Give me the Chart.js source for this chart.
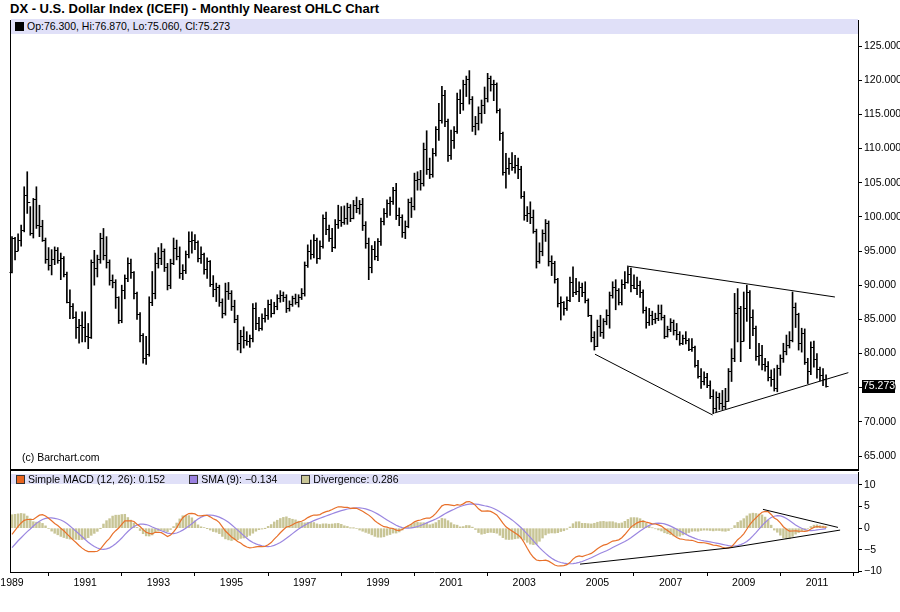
<!DOCTYPE html>
<html>
<head>
<meta charset="utf-8">
<script src="https://cdn.jsdelivr.net/npm/chart.js@4.4.1/dist/chart.umd.min.js"></script>
<style>
body { margin: 0; background: #fff; }
#wrap { position: relative; width: 900px; height: 612px; overflow: hidden;
  font-family: "Liberation Sans", Arial, sans-serif; font-size: 10.5px; color: #000; }
#wrap canvas { position: absolute; left: 0; }
.abs { position: absolute; }
#title { left: 10px; top: 1px; font-size: 13px; font-weight: bold; line-height: 15px; white-space: nowrap; }
.band { background: #e0e0f8; left: 11px; width: 847px; white-space: nowrap; }
.sq { display: inline-block; width: 7px; height: 7px; border: 1px solid #333; vertical-align: -1px; margin-right: 3px; }
.item { margin-right: 24px; }
</style>
</head>
<body>
<div id="wrap">
  <div id="title" class="abs">DX - U.S. Dollar Index (ICEFI) - Monthly Nearest OHLC Chart</div>
  <canvas id="main" width="900" height="451" style="top:20px"></canvas>
  <canvas id="macd" width="900" height="141" style="top:471px"></canvas>
  <div class="abs band" style="top:19px;height:15px;line-height:15px;padding-left:4px;width:843px"><span class="sq" style="background:#000;border-color:#000"></span><span id="ohlc"></span></div>
  <div class="abs band" style="top:474px;height:10px;line-height:10px;padding-left:5px;width:842px" id="macdLegend"></div>
  <div class="abs" style="left:10px;top:20px;width:1px;height:552px;background:#000"></div>
  <div class="abs" style="left:10px;top:469px;width:848px;height:2px;background:#000"></div>
  <div class="abs" style="left:22px;top:451px;line-height:13px">(c) Barchart.com</div>
</div>
<script>
// monthly bars, Jan 1989 .. Apr 2011 (one row per year)
var opens = [
  92.0, 96.9, 95.0, 96.6, 98.1, 103.2, 102.2, 97.6, 102.6, 98.8, 98.6, 96.6,
  93.9, 93.0, 93.8, 95.1, 93.7, 94.0, 91.7, 87.6, 86.9, 85.4, 83.9, 84.2,
  83.9, 82.5, 82.4, 93.4, 92.5, 93.9, 96.9, 94.4, 93.4, 90.8, 90.5, 88.3,
  84.9, 89.3, 91.0, 93.3, 92.0, 88.8, 85.8, 82.7, 79.3, 80.0, 87.6, 88.9,
  93.2, 94.0, 95.0, 92.6, 90.0, 93.2, 95.5, 94.3, 91.8, 92.2, 94.6, 96.4,
  96.6, 96.3, 94.0, 94.5, 92.3, 93.5, 90.2, 89.4, 89.8, 87.5, 86.0, 89.2,
  88.9, 86.9, 85.0, 81.6, 82.5, 82.0, 81.8, 82.2, 86.6, 84.5, 83.7, 85.2,
  85.6, 87.3, 86.0, 86.9, 88.1, 88.6, 88.3, 86.6, 87.3, 88.1, 87.6, 88.2,
  88.9, 92.9, 95.0, 94.5, 96.6, 94.0, 95.8, 99.8, 98.2, 96.9, 95.6, 99.0,
  99.6, 99.3, 99.9, 101.5, 99.9, 101.8, 101.3, 101.9, 98.8, 96.2, 92.6, 95.3,
  94.2, 96.4, 99.4, 100.6, 102.0, 102.3, 103.9, 100.2, 100.0, 97.8, 98.7, 102.2,
  101.6, 105.4, 105.6, 105.0, 110.0, 107.0, 106.3, 109.4, 112.8, 114.2, 117.8, 114.0,
  109.0, 111.2, 112.6, 117.3, 116.6, 119.4, 120.2, 117.3, 113.3, 113.8, 115.2, 116.3,
  117.4, 120.3, 119.5, 119.4, 115.6, 112.2, 106.6, 107.2, 107.9, 107.3, 107.6, 107.0,
  103.0, 100.3, 100.5, 100.0, 98.0, 93.6, 95.0, 97.6, 99.1, 93.6, 93.2, 90.9,
  87.4, 87.5, 86.7, 87.8, 90.4, 89.0, 89.2, 89.8, 89.0, 87.8, 85.6, 82.4,
  81.1, 84.0, 83.2, 84.8, 85.6, 88.6, 89.8, 89.3, 87.6, 90.2, 90.4, 91.6,
  90.0, 89.6, 90.0, 89.0, 86.3, 84.6, 85.6, 85.0, 85.2, 85.9, 85.4, 82.6,
  83.6, 84.6, 83.5, 82.8, 81.6, 82.3, 82.0, 80.7, 80.9, 78.3, 76.7, 76.0,
  76.6, 75.4, 73.8, 72.0, 73.6, 72.8, 72.3, 73.0, 77.4, 79.4, 86.0, 86.6,
  81.9, 86.6, 89.0, 85.3, 83.7, 79.6, 79.8, 78.4, 78.2, 76.6, 76.2, 74.9,
  77.9, 79.4, 80.3, 81.2, 82.0, 86.8, 85.8, 81.6, 83.0, 78.8, 77.4, 81.0,
  79.2, 77.8, 76.9, 76.3
];
var highs = [
  97.1, 97.0, 97.5, 98.8, 104.4, 106.6, 101.5, 102.7, 104.4, 101.7, 99.5, 96.9,
  95.5, 95.2, 95.6, 95.5, 94.7, 94.2, 91.9, 89.3, 87.3, 86.1, 85.0, 86.1,
  86.1, 84.4, 93.7, 95.1, 94.4, 97.6, 98.3, 97.1, 93.7, 91.5, 90.8, 88.3,
  90.0, 91.5, 94.0, 93.8, 92.0, 89.0, 86.0, 82.9, 82.5, 88.3, 92.0, 94.7,
  95.5, 96.1, 95.3, 93.2, 93.8, 96.9, 96.6, 95.6, 93.0, 95.0, 97.8, 97.8,
  97.4, 96.5, 95.6, 94.7, 94.0, 93.6, 91.4, 90.3, 90.0, 88.0, 90.3, 90.4,
  89.2, 87.8, 85.6, 83.4, 83.9, 83.2, 82.7, 87.3, 87.4, 85.3, 85.8, 86.6,
  87.8, 87.9, 87.5, 88.6, 89.2, 89.0, 88.6, 87.7, 88.4, 88.7, 88.6, 89.5,
  93.4, 95.9, 96.6, 97.4, 96.9, 96.5, 100.3, 100.7, 98.8, 98.3, 99.6, 101.7,
  101.5, 101.6, 102.0, 101.8, 102.4, 102.9, 102.4, 102.7, 99.3, 96.9, 95.8, 96.4,
  96.8, 99.8, 101.2, 102.5, 102.9, 104.3, 104.9, 101.3, 100.3, 99.4, 102.6, 102.8,
  106.4, 106.6, 106.8, 110.8, 112.6, 108.6, 110.0, 113.2, 116.6, 119.1, 118.5, 114.3,
  112.7, 113.2, 118.1, 118.6, 120.0, 120.6, 121.4, 117.6, 114.7, 116.1, 117.1, 119.0,
  121.0, 120.6, 120.0, 119.6, 115.8, 112.4, 109.3, 108.6, 109.4, 109.0, 108.6, 107.4,
  103.7, 101.5, 102.2, 101.0, 98.2, 96.2, 98.1, 99.6, 99.4, 94.3, 93.5, 91.0,
  88.3, 87.6, 88.3, 91.2, 92.7, 91.0, 90.5, 90.3, 90.5, 88.0, 85.6, 83.2,
  84.9, 85.6, 85.1, 86.4, 89.0, 90.5, 90.8, 89.5, 90.8, 92.0, 92.7, 92.5,
  91.5, 91.2, 90.6, 89.3, 86.8, 86.6, 86.2, 85.9, 87.1, 87.1, 85.6, 84.0,
  85.1, 84.9, 84.4, 83.2, 82.7, 83.2, 82.2, 82.2, 81.1, 79.0, 77.8, 77.3,
  77.1, 76.0, 74.7, 74.4, 74.2, 74.6, 74.9, 77.8, 80.7, 88.8, 89.5, 86.9,
  89.0, 90.0, 89.2, 86.4, 84.0, 81.5, 81.2, 79.3, 78.8, 77.6, 77.8, 78.3,
  79.8, 81.5, 82.7, 83.2, 89.0, 87.4, 85.9, 83.7, 83.6, 79.3, 81.7, 81.8,
  80.0, 78.0, 77.8, 76.87
];
var lows = [
  91.8, 93.7, 95.0, 95.7, 97.8, 100.5, 97.3, 96.9, 98.3, 97.1, 96.4, 93.2,
  92.2, 91.5, 93.0, 93.2, 90.8, 91.2, 87.4, 85.1, 85.1, 82.2, 81.5, 81.7,
  81.7, 80.7, 82.2, 90.0, 91.2, 93.2, 93.7, 92.5, 90.0, 89.6, 86.6, 84.4,
  84.5, 88.0, 90.5, 91.0, 88.0, 85.0, 81.7, 78.6, 78.4, 79.6, 87.0, 88.0,
  92.5, 93.0, 92.0, 89.3, 89.5, 93.0, 93.7, 91.0, 90.8, 91.7, 94.0, 94.7,
  95.2, 93.4, 93.2, 91.6, 91.0, 89.8, 88.3, 87.6, 86.9, 85.2, 85.6, 87.9,
  86.3, 84.5, 80.5, 80.1, 80.8, 81.2, 80.9, 81.7, 83.5, 83.3, 83.4, 84.6,
  85.0, 85.3, 85.8, 86.4, 87.5, 87.6, 86.0, 86.2, 86.9, 87.2, 86.8, 87.9,
  88.4, 92.6, 93.8, 94.0, 93.2, 93.8, 95.4, 97.4, 96.4, 94.9, 95.4, 98.3,
  98.6, 98.9, 98.9, 99.3, 99.7, 100.6, 100.4, 98.0, 95.4, 90.8, 91.8, 93.7,
  93.6, 95.8, 98.8, 99.9, 100.2, 101.8, 99.6, 98.7, 97.0, 96.8, 98.4, 99.9,
  101.0, 103.9, 103.9, 104.5, 106.2, 105.6, 105.8, 108.9, 111.2, 113.7, 113.2, 108.1,
  108.4, 110.0, 112.2, 115.1, 115.6, 117.6, 116.5, 112.5, 112.0, 112.7, 113.7, 115.1,
  116.8, 118.4, 117.0, 115.2, 111.2, 106.1, 104.2, 106.2, 106.8, 106.4, 105.6, 102.7,
  99.5, 99.3, 99.0, 97.6, 92.5, 93.2, 94.3, 96.4, 92.8, 91.4, 90.3, 86.8,
  84.9, 85.6, 86.3, 87.6, 88.3, 88.6, 87.6, 88.3, 87.4, 85.4, 81.7, 80.5,
  81.0, 82.5, 82.2, 84.2, 83.7, 88.1, 86.4, 87.1, 87.1, 89.5, 90.3, 89.0,
  89.5, 88.6, 88.2, 85.9, 83.7, 84.1, 84.2, 84.4, 84.8, 84.9, 82.2, 82.4,
  83.2, 82.7, 82.0, 81.2, 81.3, 81.4, 80.4, 80.3, 78.0, 76.4, 74.9, 75.4,
  75.0, 73.4, 71.2, 71.5, 71.8, 71.8, 71.9, 73.0, 75.9, 78.8, 81.7, 78.8,
  81.8, 84.7, 80.7, 82.6, 79.0, 78.3, 77.6, 77.4, 76.0, 75.2, 74.5, 74.4,
  76.8, 78.7, 79.8, 80.8, 81.7, 83.8, 80.5, 80.2, 78.4, 75.6, 76.9, 78.0,
  76.4, 76.0, 75.3, 75.06
];
var closes = [
  96.9, 95.0, 96.6, 98.1, 103.2, 102.2, 97.6, 102.6, 98.8, 98.6, 96.6, 93.9,
  93.0, 93.8, 95.1, 93.7, 94.0, 91.7, 87.6, 86.9, 85.4, 83.9, 84.2, 83.9,
  82.5, 82.4, 93.4, 92.5, 93.9, 96.9, 94.4, 93.4, 90.8, 90.5, 88.3, 84.9,
  89.3, 91.0, 93.3, 92.0, 88.8, 85.8, 82.7, 79.3, 80.0, 87.6, 88.9, 93.2,
  94.0, 95.0, 92.6, 90.0, 93.2, 95.5, 94.3, 91.8, 92.2, 94.6, 96.4, 96.6,
  96.3, 94.0, 94.5, 92.3, 93.5, 90.2, 89.4, 89.8, 87.5, 86.0, 89.2, 88.9,
  86.9, 85.0, 81.6, 82.5, 82.0, 81.8, 82.2, 86.6, 84.5, 83.7, 85.2, 85.6,
  87.3, 86.0, 86.9, 88.1, 88.6, 88.3, 86.6, 87.3, 88.1, 87.6, 88.2, 88.9,
  92.9, 95.0, 94.5, 96.6, 94.0, 95.8, 99.8, 98.2, 96.9, 95.6, 99.0, 99.6,
  99.3, 99.9, 101.5, 99.9, 101.8, 101.3, 101.9, 98.8, 96.2, 92.6, 95.3, 94.2,
  96.4, 99.4, 100.6, 102.0, 102.3, 103.9, 100.2, 100.0, 97.8, 98.7, 102.2, 101.6,
  105.4, 105.6, 105.0, 110.0, 107.0, 106.3, 109.4, 112.8, 114.2, 117.8, 114.0, 109.0,
  111.2, 112.6, 117.3, 116.6, 119.4, 120.2, 117.3, 113.3, 113.8, 115.2, 116.3, 117.4,
  120.3, 119.5, 119.4, 115.6, 112.2, 106.6, 107.2, 107.9, 107.3, 107.6, 107.0, 103.0,
  100.3, 100.5, 100.0, 98.0, 93.6, 95.0, 97.6, 99.1, 93.6, 93.2, 90.9, 87.4,
  87.5, 86.7, 87.8, 90.4, 89.0, 89.2, 89.8, 89.0, 87.8, 85.6, 82.4, 81.1,
  84.0, 83.2, 84.8, 85.6, 88.6, 89.8, 89.3, 87.6, 90.2, 90.4, 91.6, 90.0,
  89.6, 90.0, 89.0, 86.3, 84.6, 85.6, 85.0, 85.2, 85.9, 85.4, 82.6, 83.6,
  84.6, 83.5, 82.8, 81.6, 82.3, 82.0, 80.7, 80.9, 78.3, 76.7, 76.0, 76.6,
  75.4, 73.8, 72.0, 73.6, 72.8, 72.3, 73.0, 77.4, 79.4, 86.0, 86.6, 81.9,
  86.6, 89.0, 85.3, 83.7, 79.6, 79.8, 78.4, 78.2, 76.6, 76.2, 74.9, 77.9,
  79.4, 80.3, 81.2, 82.0, 86.8, 85.8, 81.6, 83.0, 78.8, 77.4, 81.0, 79.2,
  77.8, 76.9, 76.3, 75.273
];

// MACD for the first months needs 1987-88 prices that are not on the chart
var macdEarly = [-1.4, -0.5, 0.4, 1.2, 1.8, 2.0, 2.0, 2.0, 2.5, 3.0, 3.1, 2.8, 2.3,
  1.7, 1.1, 0.6, 0.0, -0.6, -1.3, -2.0, -2.7, -3.3, -4.0, -4.6, -5.1];
var signalEarly = [-4.5, -3.7, -2.9, -2.2, -1.5, -0.8, -0.2, 0.5];
var macdLegend = ['0.152', '\u22120.134', '0.286'];

var priceTicks = [65, 70, 75, 80, 85, 90, 95, 100, 105, 110, 115, 120, 125];
var macdTicks = [-10, -5, 0, 5, 10];
var yearLabels = [1989, 1991, 1993, 1995, 1997, 1999, 2001, 2003, 2005, 2007, 2009, 2011];

// hand drawn trend lines: [month1, value1, month2, value2]
var priceLines = [
  [201.7, 92.8, 269.9, 88.27],
  [191.2, 79.9, 229.8, 71.0],
  [230.4, 71.3, 274.3, 77.2]
];
var macdLines = [
  [246.3, 4.34, 270.9, 0.18],
  [186.3, -8.29, 235.5, -4.53],
  [235.5, -4.53, 271.6, -0.44]
];

var last = closes.length - 1;
var months = closes.map(function (c, i) { return i; });

function sma(arr, n, i) {
  var s = 0;
  for (var k = i - n + 1; k <= i; k++) s += arr[k];
  return s / n;
}
var macd = months.map(function (i) {
  return i < macdEarly.length ? macdEarly[i] : sma(closes, 12, i) - sma(closes, 26, i);
});
var signal = months.map(function (i) {
  return i < signalEarly.length ? signalEarly[i] : sma(macd, 9, i);
});
var divergence = months.map(function (i) { return macd[i] - signal[i]; });

// header texts
document.getElementById('ohlc').textContent = 'Op:' + opens[last].toFixed(3) + ', Hi:' + highs[last].toFixed(3) +
  ', Lo:' + lows[last].toFixed(3) + ', Cl:' + closes[last].toFixed(3);
var legendItems = [
  ['#e8641e', 'Simple MACD (12, 26): '],
  ['#9a80e0', 'SMA (9): '],
  ['#c8c596', 'Divergence: ']
];
document.getElementById('macdLegend').innerHTML = legendItems.map(function (it, k) {
  return '<span class="item"><span class="sq" style="background:' + it[0] + '"></span>' + it[1] + macdLegend[k] + '</span>';
}).join('');

Chart.defaults.font.family = '"Liberation Sans", Arial, sans-serif';
Chart.defaults.font.size = 10.5;
Chart.defaults.color = '#000';

var X_MIN = -0.656, X_MAX = 277.47;

function trendSets(lines) {
  return lines.map(function (l) {
    return {
      type: 'line', data: [{ x: l[0], y: l[1] }, { x: l[2], y: l[3] }],
      borderColor: '#000', borderWidth: 1, pointRadius: 0, order: 0
    };
  });
}
function noPad(s) { s.paddingLeft = 0; s.paddingRight = 0; s.paddingTop = 0; s.paddingBottom = 0; }

// open (left) and close (right) ticks of each bar
var ohlcTicks = {
  id: 'ohlcTicks',
  afterDatasetsDraw: function (chart) {
    var ctx = chart.ctx, x = chart.scales.x, y = chart.scales.y;
    ctx.save();
    ctx.strokeStyle = '#000';
    ctx.lineWidth = 1;
    ctx.beginPath();
    months.forEach(function (i) {
      var px = x.getPixelForValue(i);
      var po = Math.round(y.getPixelForValue(opens[i])) + 0.5;
      var pc = Math.round(y.getPixelForValue(closes[i])) + 0.5;
      ctx.moveTo(px - 2.5, po); ctx.lineTo(px, po);
      ctx.moveTo(px, pc); ctx.lineTo(px + 2.5, pc);
    });
    ctx.stroke();
    ctx.restore();
  }
};
var lastTag = {
  id: 'lastTag',
  afterDraw: function (chart) {
    var ctx = chart.ctx, y = chart.scales.y, a = chart.chartArea;
    var py = Math.round(y.getPixelForValue(closes[last]));
    ctx.save();
    ctx.fillStyle = '#000';
    ctx.fillRect(a.right + 4, py - 6, 33, 13);
    ctx.fillStyle = '#fff';
    ctx.font = '10.5px "Liberation Sans", Arial, sans-serif';
    ctx.textBaseline = 'middle';
    ctx.fillText(closes[last].toFixed(3), a.right + 5, py + 0.5);
    ctx.restore();
  }
};

new Chart(document.getElementById('main'), {
  type: 'bar',
  data: {
    datasets: [{
      type: 'bar',
      data: months.map(function (i) { return { x: i, y: [lows[i], highs[i]] }; }),
      backgroundColor: '#000', borderWidth: 0, barThickness: 1, order: 1
    }].concat(trendSets(priceLines))
  },
  options: {
    responsive: false, animation: false, devicePixelRatio: 1,
    layout: { padding: { left: 10, right: 0, top: 0, bottom: 0 } },
    plugins: { legend: { display: false }, tooltip: { enabled: false } },
    scales: {
      x: { type: 'linear', min: X_MIN, max: X_MAX, offset: false, display: false },
      y: {
        position: 'right', min: 62.805, max: 128.805,
        afterBuildTicks: function (s) { s.ticks = priceTicks.map(function (v) { return { value: v }; }); },
        afterFit: function (s) { s.width = 42; noPad(s); },
        grid: { drawOnChartArea: false, color: '#000', tickLength: 4 },
        border: { color: '#000' },
        ticks: { padding: 2, callback: function (v) { return v.toFixed(3); } }
      }
    }
  },
  plugins: [ohlcTicks, lastTag]
});

new Chart(document.getElementById('macd'), {
  type: 'line',
  data: {
    datasets: [
      { type: 'bar', data: months.map(function (i) { return { x: i, y: divergence[i] }; }),
        backgroundColor: '#c8c596', borderWidth: 0, barThickness: 1.8, order: 3 },
      { data: months.map(function (i) { return { x: i, y: signal[i] }; }),
        borderColor: '#9a86e0', borderWidth: 1.2, pointRadius: 0, order: 2 },
      { data: months.map(function (i) { return { x: i, y: macd[i] }; }),
        borderColor: '#e8702a', borderWidth: 1.2, pointRadius: 0, order: 1 }
    ].concat(trendSets(macdLines))
  },
  options: {
    responsive: false, animation: false, devicePixelRatio: 1,
    layout: { padding: { left: 10, right: 0, top: 1, bottom: 0 } },
    plugins: { legend: { display: false }, tooltip: { enabled: false } },
    scales: {
      x: {
        type: 'linear', min: X_MIN, max: X_MAX, offset: false,
        afterBuildTicks: function (s) { s.ticks = yearLabels.map(function (yr) { return { value: (yr - 1989) * 12 }; }); },
        afterFit: function (s) { s.height = 40; noPad(s); },
        grid: { drawOnChartArea: false, color: '#000', tickLength: 4 },
        border: { color: '#000' },
        ticks: { padding: 1, maxRotation: 0, autoSkip: false,
          callback: function (v) { return String(1989 + v / 12); } }
      },
      y: {
        position: 'right', min: -10.1, max: 12.95,
        afterBuildTicks: function (s) { s.ticks = macdTicks.map(function (v) { return { value: v }; }); },
        afterFit: function (s) { s.width = 42; noPad(s); },
        grid: { drawOnChartArea: false, color: '#000', tickLength: 4 },
        border: { color: '#000' },
        ticks: { padding: 2, callback: function (v) { return v < 0 ? '\u2212' + Math.abs(v) : String(v); } }
      }
    }
  }
});
</script>
</body>
</html>
